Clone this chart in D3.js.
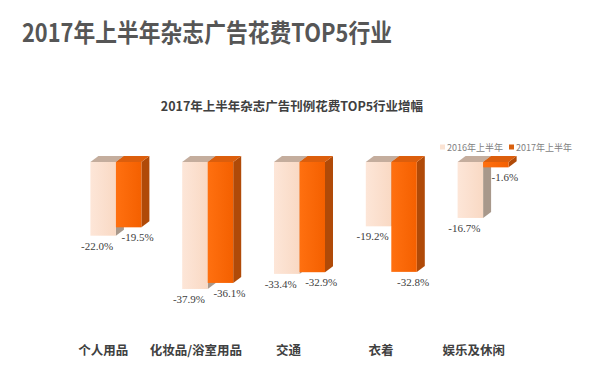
<!DOCTYPE html>
<html><head><meta charset="utf-8">
<script src="https://cdn.jsdelivr.net/npm/d3@7"></script>
<style>body{margin:0;background:#fff}svg{display:block}</style>
</head><body>
<svg id="c" width="599" height="378"></svg>
<script>
const title = "2017年上半年杂志广告花费TOP5行业";
const subtitle = "2017年上半年杂志广告刊例花费TOP5行业增幅";
const categories = ["个人用品", "化妆品/浴室用品", "交通", "衣着", "娱乐及休闲"];
const seriesNames = ["2016年上半年", "2017年上半年"];
const values2016 = [-22.0, -37.9, -33.4, -19.2, -16.7];
const values2017 = [-19.5, -36.1, -32.9, -32.8, -1.6];

const svg = d3.select("#c");
const W = 599, H = 378;
svg.append("rect").attr("width", W).attr("height", H).attr("fill", "#fff");

svg.append("text").attr("x", 22).attr("y", 42)
  .attr("font-family", "'Noto Sans CJK SC', sans-serif").attr("font-weight", "bold")
  .attr("font-size", 25).attr("fill", "#565656")
  .attr("textLength", 370).attr("lengthAdjust", "spacingAndGlyphs").text(title);

svg.append("text").attr("x", 292).attr("y", 111).attr("text-anchor", "middle")
  .attr("font-family", "'Noto Sans CJK SC', sans-serif").attr("font-weight", "bold")
  .attr("font-size", 12.5).attr("fill", "#404040").text(subtitle);

const x = d3.scaleBand().domain(categories).range([70, 529]);
const xLab = d3.scaleBand().domain(categories).range([57, 520]);
const y = d3.scaleLinear().domain([0, -40]).range([162, 296]);
const bw = 25.5, dx = 8, dy = 6;

const styles = [
  {front: ["#fde6d8", "#f9d9c4"], top: "#c4ad9d", side: "#a8988b"},
  {front: ["#ff7010", "#f46000"], top: "#dc5e0c", side: "#b04a08"}
];
const defs = svg.append("defs");
styles.forEach((s, i) => {
  const g = defs.append("linearGradient").attr("id", "g" + i).attr("x1", 0).attr("x2", 1).attr("y1", 0).attr("y2", 0);
  g.append("stop").attr("offset", 0).attr("stop-color", s.front[0]);
  g.append("stop").attr("offset", 1).attr("stop-color", s.front[1]);
});

const series = [values2016, values2017];
const bars = svg.append("g");
categories.forEach((c, ci) => {
  series.forEach((vals, si) => {
    const v = vals[ci];
    const x0 = x(c) + x.bandwidth() / 2 - bw + si * bw, x1 = x0 + bw;
    const yt = y(0), yb = y(v);
    const s = styles[si];
    bars.append("polygon")
      .attr("points", [[x1, yt], [x1 + dx, yt - dy], [x1 + dx, yb - dy], [x1, yb]].join(" "))
      .attr("fill", s.side);
    bars.append("polygon")
      .attr("points", [[x0, yt], [x0 + dx, yt - dy], [x1 + dx, yt - dy], [x1, yt]].join(" "))
      .attr("fill", s.top);
    bars.append("rect").attr("x", x0).attr("y", yt).attr("width", bw).attr("height", yb - yt)
      .attr("fill", `url(#g${si})`);
  });
});

const labels = svg.append("g").attr("font-family", "Liberation Serif, DejaVu Serif, serif")
  .attr("font-size", 11).attr("fill", "#404040").attr("text-anchor", "middle");
categories.forEach((c, ci) => {
  series.forEach((vals, si) => {
    const v = vals[ci];
    const cx = x(c) + x.bandwidth() / 2 - bw / 2 + si * bw;
    labels.append("text")
      .attr("x", si === 0 ? cx - 6 : cx + 9)
      .attr("y", y(v) + 14)
      .text(v.toFixed(1) + "%");
  });
});

svg.append("g").attr("font-family", "'Noto Sans CJK SC', sans-serif").attr("font-weight", "bold")
  .attr("font-size", 12.5).attr("fill", "#404040").attr("text-anchor", "middle")
  .selectAll("text").data(categories).join("text")
  .attr("x", d => xLab(d) + xLab.bandwidth() / 2).attr("y", 355).text(d => d);

const legend = svg.append("g").attr("font-family", "'Noto Sans CJK SC', sans-serif")
  .attr("font-size", 9).attr("fill", "#7f7f7f");
const legX = [440, 509];
seriesNames.forEach((n, i) => {
  legend.append("rect").attr("x", legX[i]).attr("y", 144.5).attr("width", 5).attr("height", 5)
    .attr("fill", i === 0 ? "#fbe3d3" : "#d9600e");
  legend.append("text").attr("x", legX[i] + 7).attr("y", 150.5).text(n);
});
</script>
</body></html>
